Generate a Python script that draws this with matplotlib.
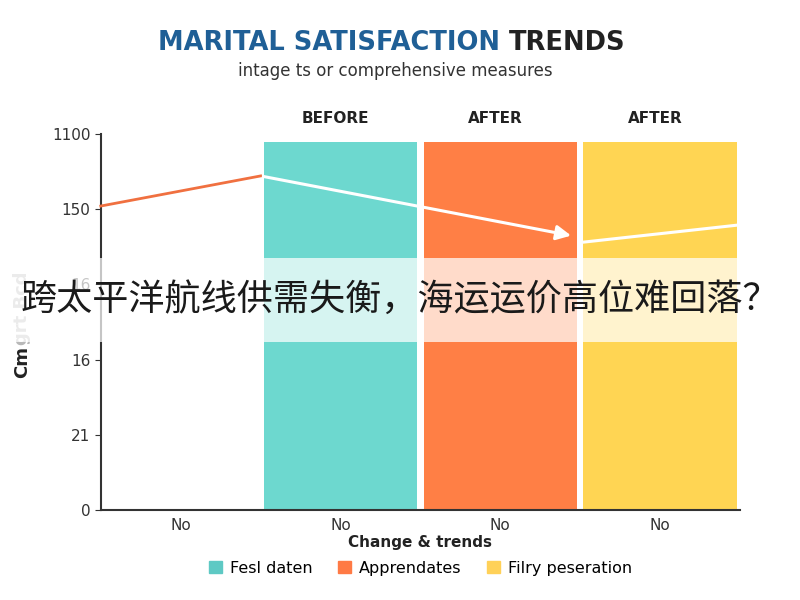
import matplotlib.pyplot as plt
from matplotlib.patches import Rectangle

plt.rcParams['font.family'] = ['DejaVu Sans']

# data
categories = ['No', 'No', 'No', 'No']
bar_values = [0, 4.89, 4.89, 4.89]
bar_colors = ['#ffffff', '#6dd8cf', '#ff7f45', '#ffd553']
bar_heads = ['', 'BEFORE', 'AFTER', 'AFTER']
ytick_labels = ['0', '21', '16', '16', '150', '1100']
line_orange_x = [-0.5, 0.5]
line_orange_y = [4.04, 4.44]
line_white_x = [0.5, 2.46]
line_white_y = [4.44, 3.64]
line_white2_x = [2.52, 3.5]
line_white2_y = [3.56, 3.79]
legend_labels = ['Fesl daten', 'Apprendates', 'Filry peseration']
legend_colors = ['#5ec9c4', '#ff7a45', '#ffd158']

fig = plt.figure(figsize=(8, 6), dpi=100)
ax = fig.add_axes([0.126, 0.15, 0.799, 0.627])

x = range(len(categories))
ax.bar(x, bar_values, width=0.96, color=bar_colors, zorder=1)
for i, h in enumerate(bar_heads):
    if h:
        ax.text(i - 0.03, 1.02, h, transform=ax.get_xaxis_transform(), ha='center', va='bottom',
                fontsize=11, fontweight='bold', color='#222222')

ax.plot(line_orange_x, line_orange_y, color='#f07040', lw=2, zorder=3, clip_on=False)
ax.annotate('', xy=(line_white_x[1], line_white_y[1]), xytext=(line_white_x[0], line_white_y[0]),
            arrowprops=dict(arrowstyle='-|>', color='white', lw=2.2, mutation_scale=22), zorder=3)
ax.plot(line_white2_x, line_white2_y, color='white', lw=2.2, zorder=3, clip_on=False)

ax.set_xlim(-0.5, 3.5)
ax.set_ylim(0, 5)
ax.set_xticks(list(x))
ax.set_xticklabels(categories, fontsize=11, color='#333333')
ax.set_yticks(range(6))
ax.set_yticklabels(ytick_labels, fontsize=11, color='#333333')
ax.tick_params(axis='x', length=0, pad=6)
ax.tick_params(axis='y', length=4, color='#333333')
for s in ['top', 'right']:
    ax.spines[s].set_visible(False)
for s in ['left', 'bottom']:
    ax.spines[s].set_color('#333333')
    ax.spines[s].set_linewidth(1.5)

ax.set_xlabel('Change & trends', fontsize=11, fontweight='bold', color='#222222', labelpad=1)

# y label: dark start, faded rest
fig.text(0.028, 1 - 378 / 600, 'Cm', rotation=90, ha='center', va='bottom', fontsize=13,
         fontweight='bold', color='#222222')
fig.text(0.028, 1 - 345 / 600, 'grt Bcd', rotation=90, ha='center', va='bottom', fontsize=13,
         fontweight='bold', color='#b8b8b8')

fig.text(0.636, 0.928, 'MARITAL SATISFACTION ', ha='right', va='center', fontsize=18.5,
         fontweight='bold', color='#1f5f96')
fig.text(0.636, 0.928, 'TRENDS', ha='left', va='center', fontsize=18.5,
         fontweight='bold', color='#222222')
fig.text(0.494, 0.881, 'intage ts or comprehensive measures', ha='center', va='center',
         fontsize=12, color='#333333')

handles = [Rectangle((0, 0), 1, 1, color=c) for c in legend_colors]
fig.legend(handles, legend_labels, loc='center', bbox_to_anchor=(0.526, 0.053), ncol=3,
           frameon=False, fontsize=11.5, handlelength=0.8, handleheight=0.8,
           columnspacing=1.6, handletextpad=0.5)

# overlay banner
fig.patches.append(Rectangle((0, 0.43), 1, 0.14, transform=fig.transFigure,
                             facecolor='white', alpha=0.72, zorder=5))
fig.text(0.5, 0.5, '跨太平洋航线供需失衡，海运运价高位难回落？', ha='center', va='center',
         fontsize=26, color='#1a1a1a', zorder=6,
         family=['Noto Sans CJK SC', 'DejaVu Sans'])

fig.savefig('out.png', dpi=100, facecolor='white')
